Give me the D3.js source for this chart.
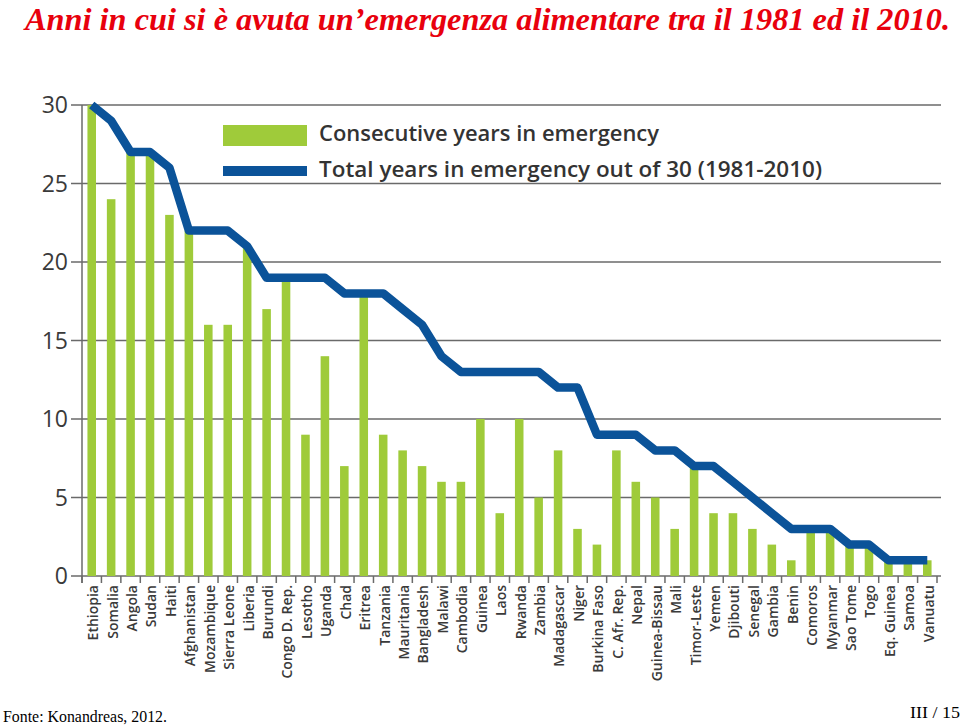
<!DOCTYPE html>
<html>
<head>
<meta charset="utf-8">
<script src="https://cdn.jsdelivr.net/npm/d3@7"></script>
<style>
  html, body { margin: 0; padding: 0; background: #fff; }
  svg { display: block; }
</style>
</head>
<body>
<svg id="chart" width="960" height="726"></svg>
<script>
const countries = ["Ethiopia","Somalia","Angola","Sudan","Haiti","Afghanistan","Mozambique","Sierra Leone","Liberia","Burundi","Congo D. Rep.","Lesotho","Uganda","Chad","Eritrea","Tanzania","Mauritania","Bangladesh","Malawi","Cambodia","Guinea","Laos","Rwanda","Zambia","Madagascar","Niger","Burkina Faso","C. Afr. Rep.","Nepal","Guinea-Bissau","Mali","Timor-Leste","Yemen","Djibouti","Senegal","Gambia","Benin","Comoros","Myanmar","Sao Tome","Togo","Eq. Guinea","Samoa","Vanuatu"];
const consecutiveYears = [30,24,27,27,23,22,16,16,21,17,19,9,14,7,18,9,8,7,6,6,10,4,10,5,8,3,2,8,6,5,3,7,4,4,3,2,1,3,3,2,2,1,1,1];
const totalYears = [30,29,27,27,26,22,22,22,21,19,19,19,19,18,18,18,17,16,14,13,13,13,13,13,12,12,9,9,9,8,8,7,7,6,5,4,3,3,3,2,2,1,1,1];
const yTicks = [0,5,10,15,20,25,30];
const legendLabels = ["Consecutive years in emergency","Total years in emergency out of 30 (1981-2010)"];
const titleText = "Anni in cui si è avuta un’emergenza alimentare tra il 1981 ed il 2010.";
const sourceText = "Fonte: Konandreas, 2012.";
const pageText = "III / 15";

const svg = d3.select("#chart");
const GREEN = "#9fcb3a", BLUE = "#0b5399", GRID = "#6a6a6a", TXT = "#3a3a3a";

const x = d3.scaleBand().domain(countries).range([82, 937]).paddingInner(0.56).paddingOuter(0.28);
const y = d3.scaleLinear().domain([0, 30]).range([576, 105]);
const step = x.step();
const cx = d => x(d) + x.bandwidth() / 2;

// Title
svg.append("text").attr("x", 25).attr("y", 30)
  .attr("font-family", "Liberation Serif, Times New Roman, serif")
  .attr("font-style", "italic").attr("font-weight", "bold")
  .attr("font-size", 32).attr("fill", "#e8000d")
  .attr("textLength", 925).attr("lengthAdjust", "spacingAndGlyphs")
  .text(titleText);

// Gridlines
const g = svg.append("g");
g.selectAll("line.grid").data(yTicks).join("line")
  .attr("x1", 71).attr("x2", 941)
  .attr("y1", d => y(d)).attr("y2", d => y(d))
  .attr("stroke", GRID).attr("stroke-width", 1.5);

// Y axis line
g.append("line").attr("x1", 82).attr("x2", 82).attr("y1", y(30)).attr("y2", y(0) + 7)
  .attr("stroke", GRID).attr("stroke-width", 1.5);

// Y tick labels
g.selectAll("text.ytick").data(yTicks).join("text")
  .attr("x", 68).attr("y", d => y(d)).attr("dy", "0.36em")
  .attr("text-anchor", "end")
  .attr("font-family", "Open Sans, DejaVu Sans, sans-serif")
  .attr("font-size", 23).attr("fill", TXT)
  .text(d => d);

// X ticks at band boundaries
const boundaries = d3.range(countries.length + 1).map(i => x.range()[0] + i * step);
g.selectAll("line.xtick").data(boundaries).join("line")
  .attr("x1", d => d).attr("x2", d => d)
  .attr("y1", y(0)).attr("y2", y(0) + 7)
  .attr("stroke", GRID).attr("stroke-width", 1.5);

// Bars
g.selectAll("rect.bar").data(countries).join("rect")
  .attr("x", d => x(d)).attr("width", x.bandwidth())
  .attr("y", (d, i) => y(consecutiveYears[i]))
  .attr("height", (d, i) => y(0) - y(consecutiveYears[i]))
  .attr("fill", GREEN);

// Line
const line = d3.line().x((d, i) => cx(countries[i])).y(d => y(d));
g.append("path").datum(totalYears)
  .attr("d", line).attr("fill", "none")
  .attr("stroke", BLUE).attr("stroke-width", 8.5)
  .attr("stroke-linejoin", "round");

// X labels
g.selectAll("text.xlab").data(countries).join("text")
  .attr("transform", d => `translate(${cx(d) + 1.5},${y(0) + 9}) rotate(-90)`)
  .attr("dy", "0.35em").attr("text-anchor", "end")
  .attr("font-family", "Open Sans, DejaVu Sans, sans-serif")
  .attr("font-weight", 600)
  .attr("font-size", 14).attr("fill", TXT)
  .text(d => d);

// Legend
const leg = svg.append("g");
leg.append("rect").attr("x", 223).attr("y", 125).attr("width", 84).attr("height", 21).attr("fill", GREEN);
leg.append("rect").attr("x", 223).attr("y", 166).attr("width", 84).attr("height", 10).attr("fill", BLUE);
const legWidths = [340, 503];
const legY = [141, 177];
legendLabels.forEach((t, i) => {
  leg.append("text").attr("x", 319).attr("y", legY[i])
    .attr("font-family", "Open Sans, DejaVu Sans, sans-serif")
    .attr("font-weight", 600)
    .attr("font-size", 21).attr("fill", "#333")
    .attr("textLength", legWidths[i]).attr("lengthAdjust", "spacingAndGlyphs")
    .text(t);
});

// Footer
svg.append("text").attr("x", 3).attr("y", 722)
  .attr("font-family", "Liberation Serif, Times New Roman, serif")
  .attr("font-size", 17).attr("fill", "#000")
  .attr("textLength", 164).attr("lengthAdjust", "spacingAndGlyphs")
  .text(sourceText);
svg.append("text").attr("x", 910).attr("y", 718)
  .attr("font-family", "Liberation Serif, Times New Roman, serif")
  .attr("font-size", 17).attr("fill", "#000")
  .attr("textLength", 50).attr("lengthAdjust", "spacingAndGlyphs")
  .text(pageText);
</script>
</body>
</html>
